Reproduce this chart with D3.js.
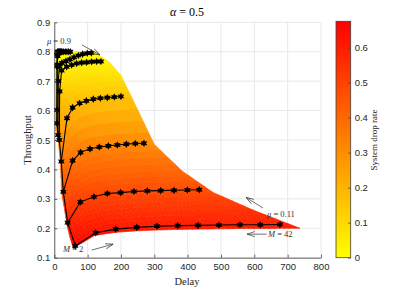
<html>
<head>
<script src="https://d3js.org/d3.v7.min.js"></script>
<style>
body { margin: 0; background: #fff; }
text { font-family: 'Liberation Sans', Arial, sans-serif; }
.serif { font-family: 'Liberation Serif', 'DejaVu Serif', serif; }
</style>
</head>
<body>
<div id="chart"></div>
<script>
// ---- data ----
var xTicks = [0, 100, 200, 300, 400, 500, 600, 700, 800];
var yTicks = [0.1, 0.2, 0.3, 0.4, 0.5, 0.6, 0.7, 0.8, 0.9];
var cTicks = [0, 0.1, 0.2, 0.3, 0.4, 0.5, 0.6];
var dropMax = 0.675;

// black curves, one per mu, M = 2, 6, 10, ...
var curveMu = [0.11, 0.17, 0.25, 0.32, 0.45, 0.6, 0.75, 0.9];
var curveDelay = [
  [63, 124, 184, 247, 308, 370, 431, 494, 557, 618, 677],
  [40, 78, 119, 159, 199, 239, 279, 319, 359, 399, 435],
  [27, 55, 79, 107, 135, 162, 189, 216, 243, 269],
  [21, 38, 55, 76, 96, 117, 138, 159, 180, 200],
  [15, 16, 22, 37, 52, 67, 82, 97, 112, 127, 140],
  [11, 12, 15, 23, 35, 47, 59, 72, 85, 99, 111],
  [8, 9, 10, 14, 18, 23, 28, 33, 38, 43, 48],
  [8, 8, 8, 9, 10, 12, 14, 16, 18, 20, 22]
];
var curveThroughput = [
  [0.140, 0.185, 0.197, 0.203, 0.207, 0.209, 0.210, 0.211, 0.212, 0.212, 0.213],
  [0.219, 0.289, 0.307, 0.318, 0.321, 0.325, 0.327, 0.328, 0.329, 0.330, 0.331],
  [0.324, 0.430, 0.458, 0.470, 0.476, 0.480, 0.483, 0.486, 0.488, 0.489],
  [0.427, 0.574, 0.610, 0.625, 0.633, 0.639, 0.642, 0.644, 0.646, 0.648],
  [0.500, 0.665, 0.736, 0.749, 0.755, 0.760, 0.763, 0.764, 0.766, 0.767, 0.767],
  [0.517, 0.700, 0.750, 0.762, 0.768, 0.774, 0.781, 0.787, 0.792, 0.795, 0.796],
  [0.557, 0.756, 0.785, 0.795, 0.798, 0.800, 0.800, 0.800, 0.800, 0.800, 0.800],
  [0.602, 0.750, 0.790, 0.798, 0.800, 0.800, 0.800, 0.800, 0.800, 0.800, 0.800]
];

// coloured surface, rows = mu, columns = M
var surfDelay = [
  [57, 120, 182, 244, 306, 368, 430, 492, 554, 616, 677, 737],
  [46, 96, 146, 196, 246, 296, 346, 396, 446, 496, 546, 596],
  [38, 77, 117, 157, 197, 237, 277, 317, 357, 397, 437, 476],
  [31, 63, 95, 127, 159, 191, 223, 255, 287, 319, 351, 383],
  [22, 48, 74, 100, 126, 152, 178, 204, 230, 256, 280, 300],
  [18, 36, 54, 74, 94, 114, 134, 154, 174, 194, 212, 232],
  [14, 24, 36, 52, 70, 88, 106, 124, 142, 160, 180, 200],
  [12, 16, 22, 37, 52, 67, 82, 97, 112, 127, 147, 165],
  [9, 11, 15, 23, 35, 47, 59, 72, 85, 99, 112, 126],
  [7, 8, 10, 14, 20, 28, 36, 45, 55, 66, 80, 95],
  [5, 6, 7, 8, 10, 13, 17, 22, 28, 35, 42, 50]
];
var surfThroughput = [
  [0.132, 0.175, 0.186, 0.191, 0.194, 0.196, 0.197, 0.198, 0.199, 0.199, 0.200, 0.200],
  [0.173, 0.229, 0.244, 0.251, 0.255, 0.257, 0.259, 0.260, 0.261, 0.261, 0.262, 0.262],
  [0.213, 0.282, 0.299, 0.308, 0.313, 0.316, 0.318, 0.319, 0.320, 0.321, 0.322, 0.322],
  [0.261, 0.346, 0.367, 0.378, 0.384, 0.387, 0.390, 0.391, 0.393, 0.394, 0.395, 0.395],
  [0.320, 0.424, 0.451, 0.464, 0.471, 0.476, 0.479, 0.481, 0.483, 0.484, 0.485, 0.485],
  [0.426, 0.564, 0.600, 0.617, 0.627, 0.633, 0.637, 0.639, 0.642, 0.643, 0.645, 0.645],
  [0.475, 0.630, 0.670, 0.689, 0.700, 0.706, 0.711, 0.713, 0.716, 0.718, 0.720, 0.720],
  [0.505, 0.665, 0.720, 0.735, 0.745, 0.752, 0.756, 0.759, 0.762, 0.764, 0.765, 0.765],
  [0.520, 0.690, 0.740, 0.760, 0.767, 0.773, 0.780, 0.786, 0.791, 0.794, 0.795, 0.795],
  [0.530, 0.720, 0.770, 0.790, 0.797, 0.800, 0.800, 0.800, 0.800, 0.800, 0.800, 0.800],
  [0.530, 0.720, 0.775, 0.792, 0.798, 0.800, 0.800, 0.800, 0.800, 0.800, 0.800, 0.800]
];
var surfDrop = [
  [0.675, 0.64, 0.63, 0.62, 0.62, 0.62, 0.62, 0.61, 0.61, 0.61, 0.61, 0.61],
  [0.64, 0.58, 0.57, 0.56, 0.56, 0.55, 0.55, 0.55, 0.55, 0.55, 0.55, 0.55],
  [0.60, 0.53, 0.51, 0.50, 0.50, 0.49, 0.49, 0.49, 0.49, 0.49, 0.49, 0.49],
  [0.55, 0.46, 0.44, 0.43, 0.42, 0.42, 0.42, 0.42, 0.42, 0.41, 0.41, 0.41],
  [0.49, 0.38, 0.36, 0.34, 0.34, 0.33, 0.33, 0.33, 0.32, 0.32, 0.32, 0.32],
  [0.38, 0.24, 0.20, 0.19, 0.18, 0.17, 0.17, 0.16, 0.16, 0.16, 0.16, 0.16],
  [0.33, 0.17, 0.13, 0.11, 0.10, 0.10, 0.09, 0.09, 0.09, 0.08, 0.08, 0.08],
  [0.30, 0.14, 0.08, 0.07, 0.06, 0.05, 0.04, 0.04, 0.04, 0.04, 0.04, 0.04],
  [0.29, 0.11, 0.06, 0.04, 0.03, 0.03, 0.02, 0.01, 0.01, 0.01, 0.01, 0.01],
  [0.28, 0.08, 0.03, 0.01, 0, 0, 0, 0, 0, 0, 0, 0],
  [0.28, 0.08, 0.03, 0.01, 0, 0, 0, 0, 0, 0, 0, 0]
];

// ---- set up ----
var svg = d3.select("#chart").append("svg")
  .attr("width", 407).attr("height", 290);

var xS = d3.scaleLinear().domain([0, 800]).range([54.3, 321]);
var yS = d3.scaleLinear().domain([0.1, 0.9]).range([257.7, 22.3]);
var colorS = d3.scaleLinear().domain([0, dropMax]).range(["#ffff00", "#ff0000"]).clamp(true);

// grid
var grid = svg.append("g");
grid.selectAll(".gx").data(xTicks).enter().append("line")
  .attr("x1", function(d) { return xS(d); }).attr("x2", function(d) { return xS(d); })
  .attr("y1", yS(0.1)).attr("y2", yS(0.9))
  .style("stroke", "#e8e8e8").style("stroke-width", 1);
grid.selectAll(".gy").data(yTicks).enter().append("line")
  .attr("y1", function(d) { return yS(d); }).attr("y2", function(d) { return yS(d); })
  .attr("x1", xS(0)).attr("x2", xS(800))
  .style("stroke", "#e8e8e8").style("stroke-width", 1);

// surface: each cell split into small flat patches
var sub = 4;
var patches = [];
for (var r = 0; r < surfDelay.length - 1; r++) {
  for (var c = 0; c < surfDelay[r].length - 1; c++) {
    var p00 = [xS(surfDelay[r][c]), yS(surfThroughput[r][c]), surfDrop[r][c]];
    var p01 = [xS(surfDelay[r][c+1]), yS(surfThroughput[r][c+1]), surfDrop[r][c+1]];
    var p10 = [xS(surfDelay[r+1][c]), yS(surfThroughput[r+1][c]), surfDrop[r+1][c]];
    var p11 = [xS(surfDelay[r+1][c+1]), yS(surfThroughput[r+1][c+1]), surfDrop[r+1][c+1]];
    var bl = function(u, v) {
      return [0, 1, 2].map(function(k) {
        return (1-u)*(1-v)*p00[k] + u*(1-v)*p01[k] + (1-u)*v*p10[k] + u*v*p11[k];
      });
    };
    for (var i = 0; i < sub; i++) {
      for (var j = 0; j < sub; j++) {
        var a = bl(i/sub, j/sub), b = bl((i+1)/sub, j/sub),
            cc = bl((i+1)/sub, (j+1)/sub), d = bl(i/sub, (j+1)/sub);
        var m = bl((i+0.5)/sub, (j+0.5)/sub);
        patches.push({pts: [a, b, cc, d], drop: m[2]});
      }
    }
  }
}
svg.append("g").selectAll("path").data(patches).enter().append("path")
  .attr("d", function(d) { return "M" + d.pts.map(function(p) { return p[0] + "," + p[1]; }).join("L") + "Z"; })
  .style("fill", function(d) { return colorS(d.drop); })
  .style("stroke", function(d) { return colorS(d.drop); })
  .style("stroke-width", 0.6);

// black curves
var line = d3.line().x(function(d) { return xS(d[0]); }).y(function(d) { return yS(d[1]); });
var curves = curveMu.map(function(mu, k) {
  return curveDelay[k].map(function(dl, i) { return [dl, curveThroughput[k][i]]; });
});
var firstPts = curves.map(function(c) { return c[0]; });

var cg = svg.append("g");
cg.append("path").attr("d", line(firstPts))
  .style("fill", "none").style("stroke", "#000").style("stroke-width", 1.1);
cg.selectAll(".curve").data(curves).enter().append("path")
  .attr("d", function(d) { return line(d); })
  .style("fill", "none").style("stroke", "#000").style("stroke-width", 1.1);

function hexagram(rad) {
  var p = [];
  for (var i = 0; i < 12; i++) {
    var a = Math.PI / 6 * i - Math.PI / 2;
    var rr = (i % 2) ? rad * 0.55 : rad;
    p.push((rr * Math.cos(a)).toFixed(2) + "," + (rr * Math.sin(a)).toFixed(2));
  }
  return "M" + p.join("L") + "Z";
}
var allPts = [].concat.apply([], curves);
cg.selectAll(".mk").data(allPts).enter().append("path")
  .attr("d", hexagram(3.8))
  .attr("transform", function(d) { return "translate(" + xS(d[0]) + "," + yS(d[1]) + ")"; })
  .style("fill", "#000");

// annotations
var defs = svg.append("defs");
defs.append("marker").attr("id", "ah").attr("viewBox", "0 -3 8 6")
  .attr("refX", 8).attr("refY", 0).attr("markerWidth", 8).attr("markerHeight", 6)
  .attr("markerUnits", "userSpaceOnUse").attr("orient", "auto")
  .append("path").attr("d", "M0,-2.6L8,0L0,2.6").style("fill", "none")
  .style("stroke", "#333").style("stroke-width", 0.7);

var notes = [
  {sym: "\u03bc", val: " = 0.9", tx: -22, ty: 0.826, ax1: 83, ay1: 0.823, ax2: 137, ay2: 0.789},
  {sym: "\u03bc", val: " = 0.11", tx: 638, ty: 0.237, ax1: 626, ay1: 0.269, ax2: 575, ay2: 0.305},
  {sym: "M", val: " = 42", tx: 641, ty: 0.171, ax1: 637, ay1: 0.180, ax2: 578, ay2: 0.180},
  {sym: "M", val: " = 2", tx: 26, ty: 0.118, ax1: 112, ay1: 0.126, ax2: 177, ay2: 0.146}
];
var ng = svg.append("g");
notes.forEach(function(n) {
  var t = ng.append("text").attr("class", "serif")
    .attr("x", xS(n.tx)).attr("y", yS(n.ty))
    .style("font-size", "8.5px").style("fill", "#333");
  t.append("tspan").style("font-style", "italic").text(n.sym);
  t.append("tspan").text(n.val);
  ng.append("line")
    .attr("x1", xS(n.ax1)).attr("y1", yS(n.ay1))
    .attr("x2", xS(n.ax2)).attr("y2", yS(n.ay2))
    .attr("marker-end", "url(#ah)")
    .style("stroke", "#333").style("stroke-width", 0.7);
});

// axes
var xAxis = d3.axisBottom(xS).tickValues(xTicks).tickSize(-3).tickSizeOuter(0).tickPadding(6)
  .tickFormat(d3.format("d"));
var yAxis = d3.axisLeft(yS).tickValues(yTicks).tickSize(-3).tickSizeOuter(0).tickPadding(4)
  .tickFormat(d3.format(".1f"));
var gx = svg.append("g").attr("transform", "translate(0," + yS(0.1) + ")").call(xAxis);
var gy = svg.append("g").attr("transform", "translate(" + xS(0) + ",0)").call(yAxis);
[gx, gy].forEach(function(g) {
  g.selectAll("path, line").style("stroke", "#404040").style("stroke-width", 0.8);
  g.selectAll("text").style("font-size", "9.5px").style("fill", "#262626")
    .style("font-family", "'Liberation Sans', Arial, sans-serif");
});

// titles
var title = svg.append("text").attr("class", "serif")
  .attr("x", 187).attr("y", 16).attr("text-anchor", "middle")
  .style("font-size", "12px").style("fill", "#000");
title.append("tspan").style("font-style", "italic").text("\u03b1");
title.append("tspan").text(" = 0.5");

svg.append("text").attr("class", "serif")
  .attr("x", 187).attr("y", 285).attr("text-anchor", "middle")
  .style("font-size", "10.5px").style("fill", "#262626").text("Delay");
svg.append("text").attr("class", "serif")
  .attr("transform", "translate(31,140) rotate(-90)").attr("text-anchor", "middle")
  .style("font-size", "10.5px").style("fill", "#262626").text("Throughput");

// colorbar
var cbX0 = 336, cbX1 = 350.7;
var cS = d3.scaleLinear().domain([0, dropMax]).range([257.7, 21.3]);
var grad = defs.append("linearGradient").attr("id", "cbg")
  .attr("x1", 0).attr("y1", 1).attr("x2", 0).attr("y2", 0);
grad.append("stop").attr("offset", "0%").attr("stop-color", colorS(0));
grad.append("stop").attr("offset", "100%").attr("stop-color", colorS(dropMax));
svg.append("rect").attr("x", cbX0).attr("y", cS(dropMax))
  .attr("width", cbX1 - cbX0).attr("height", cS(0) - cS(dropMax))
  .style("fill", "url(#cbg)").style("stroke", "#404040").style("stroke-width", 0.8);
var cAxis = d3.axisRight(cS).tickValues(cTicks).tickSize(-2.5).tickSizeOuter(0).tickPadding(4)
  .tickFormat(function(d) { return d === 0 ? "0" : d3.format(".1f")(d); });
var gc = svg.append("g").attr("transform", "translate(" + cbX1 + ",0)").call(cAxis);
gc.select(".domain").remove();
gc.selectAll("line").style("stroke", "#404040").style("stroke-width", 0.8);
gc.selectAll("text").style("font-size", "9.5px").style("fill", "#262626")
  .style("font-family", "'Liberation Sans', Arial, sans-serif");
svg.append("text").attr("class", "serif")
  .attr("transform", "translate(377,140) rotate(-90)").attr("text-anchor", "middle")
  .style("font-size", "9px").style("fill", "#262626").text("System drop rate");
</script>
</body>
</html>
